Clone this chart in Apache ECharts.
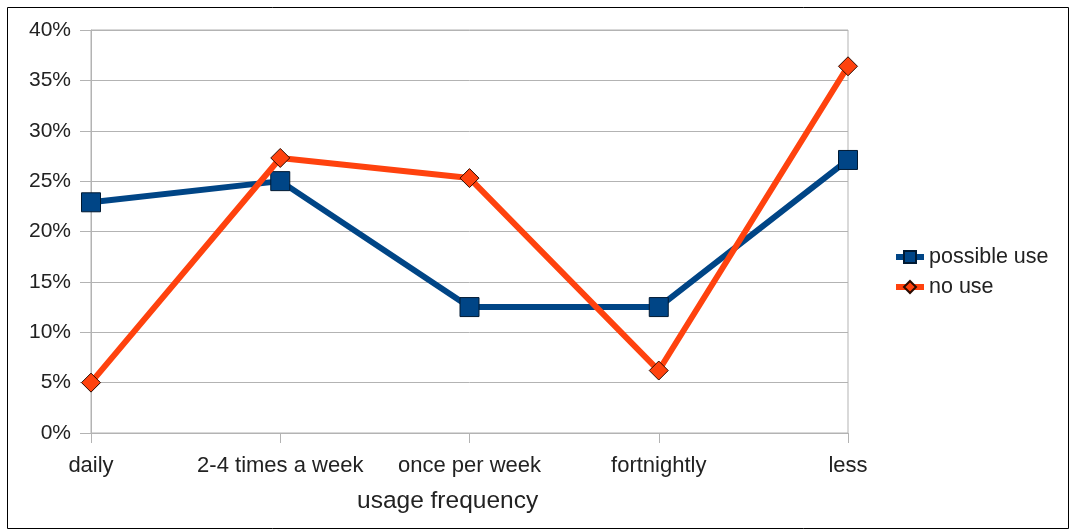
<!DOCTYPE html>
<html><head><meta charset="utf-8">
<script src="https://cdn.jsdelivr.net/npm/echarts@6/dist/echarts.min.js"></script>
<style>html,body{margin:0;padding:0;background:#fff}#c{width:1070px;height:530px}</style>
</head><body><div id="c"></div>
<script>
const categories = ['daily', '2-4 times a week', 'once per week', 'fortnightly', 'less'];
const possibleUse = [22.9, 25.0, 12.5, 12.5, 27.1];
const noUse = [5.0, 27.3, 25.3, 6.2, 36.4];
const yTicks = [0, 5, 10, 15, 20, 25, 30, 35, 40];

const chart = echarts.init(document.getElementById('c'));
const font = 'Liberation Sans, Arial, sans-serif';
chart.setOption({
  animation: false,
  textStyle: { fontFamily: font },
  graphic: [
    { type: 'rect', shape: { x: 7.5, y: 7.5, width: 1061, height: 521 }, style: { fill: null, stroke: '#000', lineWidth: 1 }, z: -1 },
    { type: 'text', left: 357, top: 489, style: { text: 'usage frequency', font: '24.5px ' + font, fill: '#222' } }
  ],
  legend: {
    orient: 'vertical', left: 893, top: 246, padding: 0, itemWidth: 28, itemHeight: 15, itemGap: 8,
    textStyle: { fontSize: 21.5, color: '#222', fontFamily: font },
    data: [
      { name: 'possible use', lineStyle: { width: 6, color: '#004586' } },
      { name: 'no use', lineStyle: { width: 6, color: '#ff420e' } }
    ]
  },
  grid: { left: 91, right: 222, top: 30, bottom: 97, show: true, borderColor: '#b3b3b3', borderWidth: 1 },
  xAxis: {
    type: 'category', data: categories, boundaryGap: false,
    axisLine: { lineStyle: { color: '#b3b3b3' } },
    axisTick: { show: true, length: 10, lineStyle: { color: '#b3b3b3' } },
    axisLabel: { fontSize: 22, color: '#222', margin: 22, interval: 0, fontFamily: font },
    splitLine: { show: false }
  },
  yAxis: {
    type: 'value', min: 0, max: 40, interval: 5,
    axisLine: { show: true, lineStyle: { color: '#b3b3b3' } },
    axisTick: { show: true, length: 11, lineStyle: { color: '#b3b3b3' } },
    axisLabel: { fontSize: 21, color: '#222', margin: 20, fontFamily: font,
      formatter: v => yTicks.includes(v) ? v + '%' : '' },
    splitLine: { lineStyle: { color: '#b3b3b3' } }
  },
  series: [
    { name: 'possible use', type: 'line', data: possibleUse, symbol: 'rect', symbolSize: 19,
      lineStyle: { color: '#004586', width: 6 },
      itemStyle: { color: '#004586', borderColor: '#001a33', borderWidth: 1 }, z: 2 },
    { name: 'no use', type: 'line', data: noUse, symbol: 'diamond', symbolSize: 19,
      lineStyle: { color: '#ff420e', width: 6 },
      itemStyle: { color: '#ff420e', borderColor: '#2a0a00', borderWidth: 1 }, z: 3 }
  ]
});
</script></body></html>
